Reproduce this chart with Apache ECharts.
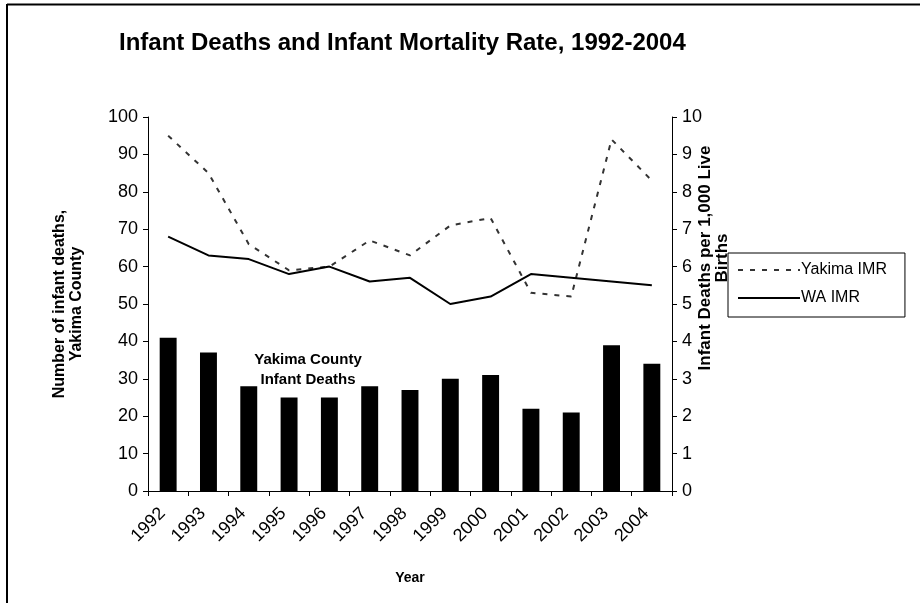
<!DOCTYPE html>
<html>
<head>
<meta charset="utf-8">
<script src="https://cdn.jsdelivr.net/npm/echarts@6/dist/echarts.min.js"></script>
<style>
  html, body { margin: 0; padding: 0; background: #fff; }
  #chart { width: 920px; height: 603px; }
</style>
</head>
<body>
<div id="chart"></div>
<script>
const years = ['1992', '1993', '1994', '1995', '1996', '1997', '1998', '1999', '2000', '2001', '2002', '2003', '2004'];
const deaths = [41, 37, 28, 25, 25, 28, 27, 30, 31, 22, 21, 39, 34];
const yakimaImr = [9.5, 8.5, 6.6, 5.9, 6.0, 6.7, 6.3, 7.1, 7.3, 5.3, 5.2, 9.4, 8.3];
const waImr = [6.8, 6.3, 6.2, 5.8, 6.0, 5.6, 5.7, 5.0, 5.2, 5.8, 5.7, 5.6, 5.5];

const myChart = echarts.init(document.getElementById('chart'));
const font = 'Arial, "Liberation Sans", sans-serif';

const option = {
  animation: false,
  backgroundColor: '#fff',
  textStyle: { fontFamily: font, color: '#000' },
  title: {
    text: 'Infant Deaths and Infant Mortality Rate, 1992-2004',
    left: 119,
    top: 31,
    padding: 0,
    textStyle: { fontSize: 24, fontWeight: 'bold', color: '#000', fontFamily: font },
  },
  legend: {
    data: ['Yakima IMR', 'WA IMR'],
    orient: 'vertical',
    left: 728,
    top: 253,
    padding: [9, 18, 11, 9],
    itemGap: 12,
    itemWidth: 62,
    itemHeight: 14,
    borderColor: '#000',
    borderWidth: 1,
    borderRadius: 0,
    itemStyle: { color: 'rgba(0,0,0,0)', borderColor: 'rgba(0,0,0,0)', borderWidth: 0 },
    textStyle: { fontSize: 16, color: '#000', fontFamily: font, padding: [0, 0, 0, -4] },
  },
  grid: { left: 148, right: 248, top: 117, bottom: 112 },
  xAxis: {
    type: 'category',
    data: years,
    name: 'Year',
    nameLocation: 'middle',
    nameGap: 80,
    nameTextStyle: { fontSize: 14, fontWeight: 'bold', color: '#000' },
    axisLine: { lineStyle: { color: '#000', width: 1 } },
    axisTick: { show: true, alignWithLabel: false, length: 5, lineStyle: { color: '#000' } },
    axisLabel: { rotate: 45, fontSize: 18, color: '#000', margin: 14, interval: 0, padding: [0, 8, 0, 0] },
  },
  yAxis: [
    {
      type: 'value',
      min: 0,
      max: 100,
      interval: 10,
      name: 'Number of infant deaths,\nYakima County',
      nameLocation: 'middle',
      nameGap: 63,
      nameRotate: 90,
      nameTextStyle: { fontSize: 16, fontWeight: 'bold', color: '#000', lineHeight: 17 },
      axisLine: { show: true, lineStyle: { color: '#000' } },
      axisTick: { show: true, length: 5, lineStyle: { color: '#000' } },
      axisLabel: { fontSize: 18, color: '#000', margin: 10 },
      splitLine: { show: false },
    },
    {
      type: 'value',
      min: 0,
      max: 10,
      interval: 1,
      position: 'right',
      axisLine: { show: true, lineStyle: { color: '#000' } },
      axisTick: { show: true, length: 5, lineStyle: { color: '#000' } },
      axisLabel: { fontSize: 18, color: '#000', margin: 10 },
      splitLine: { show: false },
    },
  ],
  graphic: [
    {
      type: 'line',
      shape: { x1: 7, y1: 4.5, x2: 920, y2: 4.5 },
      style: { stroke: '#000', lineWidth: 2 },
    },
    {
      type: 'line',
      shape: { x1: 7, y1: 4, x2: 7, y2: 603 },
      style: { stroke: '#000', lineWidth: 2 },
    },
    {
      type: 'text',
      x: 714,
      y: 258,
      rotation: Math.PI / 2,
      style: {
        text: 'Infant Deaths per 1,000 Live\nBirths',
        font: 'bold 17px ' + font,
        fill: '#000',
        align: 'center',
        verticalAlign: 'middle',
        lineHeight: 17,
      },
    },
    {
      type: 'text',
      x: 308,
      y: 370,
      style: {
        text: 'Yakima County\nInfant Deaths',
        font: 'bold 15px ' + font,
        fill: '#000',
        align: 'center',
        verticalAlign: 'middle',
        lineHeight: 20,
      },
    },
  ],
  series: [
    {
      name: 'Yakima County Infant Deaths',
      type: 'bar',
      yAxisIndex: 0,
      data: deaths,
      barWidth: '42%',
      itemStyle: { color: '#000' },
    },
    {
      name: 'Yakima IMR',
      type: 'line',
      yAxisIndex: 1,
      data: yakimaImr,
      symbol: 'none',
      lineStyle: { color: '#333', width: 2, type: [5, 7] },
      itemStyle: { color: '#333' },
    },
    {
      name: 'WA IMR',
      type: 'line',
      yAxisIndex: 1,
      data: waImr,
      symbol: 'none',
      lineStyle: { color: '#000', width: 2 },
      itemStyle: { color: '#000' },
    },
  ],
};

myChart.setOption(option);
</script>
</body>
</html>
